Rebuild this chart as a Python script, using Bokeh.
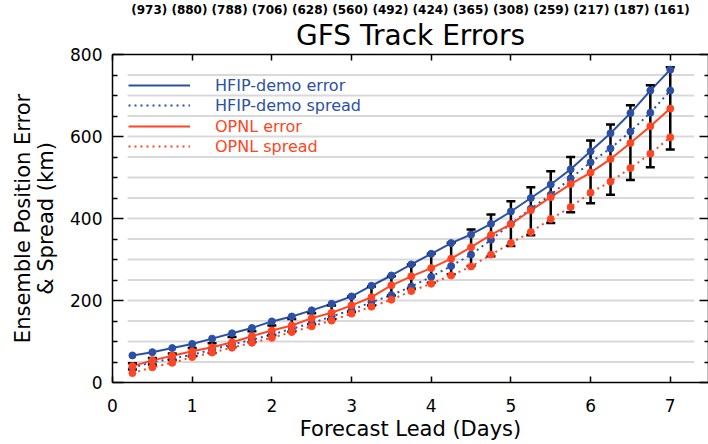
import numpy as np
from bokeh.plotting import figure
from bokeh.models import (Range1d, LinearAxis, FixedTicker, ColumnDataSource, Legend,
                          LegendItem, CustomJSTickFormatter, Title)
from bokeh.embed import file_html
from bokeh.resources import INLINE

# ---------------- data ----------------
days = [0.25, 0.5, 0.75, 1.0, 1.25, 1.5, 1.75, 2.0, 2.25, 2.5, 2.75, 3.0, 3.25, 3.5,
        3.75, 4.0, 4.25, 4.5, 4.75, 5.0, 5.25, 5.5, 5.75, 6.0, 6.25, 6.5, 6.75, 7.0]
hfip_error = [66, 74, 84, 94, 107, 120, 133, 149, 161, 176, 192, 210, 236, 261,
              288, 314, 340, 361, 387, 417, 450, 483, 520, 564, 608, 657, 712, 763]
hfip_spread = [36, 50, 58, 68, 80, 93, 104, 117, 131, 145, 161, 177, 196, 213,
               234, 258, 284, 312, 348, 387, 424, 458, 498, 537, 571, 612, 658, 712]
opnl_error = [40, 54, 65, 76, 86, 98, 113, 127, 139, 157, 170, 188, 208, 237,
              259, 279, 302, 330, 360, 386, 420, 452, 484, 512, 545, 584, 625, 668]
opnl_spread = [23, 37, 48, 62, 73, 85, 97, 109, 123, 137, 151, 168, 185, 202,
               223, 241, 261, 283, 312, 340, 367, 399, 428, 463, 490, 523, 558, 598]
bar_high = [47, 60, 71, 84, 96, 111, 125, 139, 155, 169, 188, 210, 234, 259,
            288, 314, 341, 373, 410, 442, 476, 515, 550, 590, 629, 676, 725, 769]
bar_low = [32, 44, 55, 64, 72, 86, 98, 115, 124, 142, 154, 172, 188, 212,
           229, 243, 264, 284, 308, 333, 359, 389, 415, 437, 458, 494, 525, 568]

counts = [973, 880, 788, 706, 628, 560, 492, 424, 365, 308, 259, 217, 187, 161]

x_ticks = [0, 1, 2, 3, 4, 5, 6, 7]
y_ticks = [0, 200, 400, 600, 800]
y_minor = [50, 100, 150, 250, 300, 350, 450, 500, 550, 650, 700, 750]

BLUE = "#2b50a6"
RED = "#ff4522"
FONT = "DejaVu Sans"

src = ColumnDataSource(dict(x=days, be=hfip_error, bs=hfip_spread, re=opnl_error,
                            rs=opnl_spread, hi=bar_high, lo=bar_low))

p = figure(width=708, height=444, x_range=Range1d(0, 7.48), y_range=Range1d(0, 800),
           output_backend="svg", toolbar_location=None,
           x_axis_location=None, y_axis_location=None,
           min_border_left=112, min_border_right=0, min_border_top=54, min_border_bottom=62)
p.outline_line_color = None
p.grid.visible = False
p.background_fill_color = "white"
p.border_fill_color = "white"

blank = CustomJSTickFormatter(code="return ''")

def style_axis(ax, tick_in, minor_in=0):
    ax.major_tick_in = tick_in
    ax.major_tick_out = 0
    ax.minor_tick_in = minor_in
    ax.minor_tick_out = 0
    ax.axis_line_color = "black"
    ax.axis_line_width = 1.5
    ax.major_tick_line_width = 1.5
    ax.minor_tick_line_width = 1.5
    ax.major_label_text_font = FONT
    ax.major_label_text_font_size = "17px"
    ax.major_label_text_color = "black"
    ax.axis_label_text_font = FONT
    ax.axis_label_text_font_size = "21px"
    ax.axis_label_text_font_style = "normal"
    ax.axis_label_text_color = "black"

left = LinearAxis(ticker=FixedTicker(ticks=y_ticks, minor_ticks=y_minor),
                  axis_label="Ensemble Position Error\n& Spread (km)")
style_axis(left, 11, 5)
left.major_label_standoff = 10
left.axis_label_standoff = 9
left.axis_label_text_line_height = 0.94
p.add_layout(left, "left")

right = LinearAxis(ticker=FixedTicker(ticks=y_ticks, minor_ticks=y_minor), formatter=blank)
style_axis(right, 9, 4)
right.major_label_standoff = 0
p.add_layout(right, "right")

bottom = LinearAxis(ticker=FixedTicker(ticks=x_ticks), axis_label="Forecast Lead (Days)")
style_axis(bottom, 6)
bottom.major_label_standoff = 16
bottom.axis_label_standoff = 2
p.add_layout(bottom, "below")

top = LinearAxis(ticker=FixedTicker(ticks=x_ticks), formatter=blank)
style_axis(top, 6)
top.major_label_standoff = 0
p.add_layout(top, "above")

# titles (added after the top axis -> stacked outward)
p.add_layout(Title(text="GFS Track Errors", align="center", text_font=FONT,
                   text_font_size="28px", text_font_style="normal", text_color="black",
                   standoff=5, offset=7), "above")
p.add_layout(Title(text=" ".join("(%d)" % c for c in counts), align="center",
                   text_font=FONT, text_font_size="12px", text_font_style="bold",
                   text_color="black", standoff=-5), "above")

# horizontal guide lines (at tick positions, inset from the frame)
grid_y = [v for v in sorted(y_ticks + y_minor) if 0 < v < 800]
p.segment(x0=0.19, x1=7.3, y0=grid_y, y1=grid_y, line_color="#d9d9d9", line_width=2)

# lines
r_be = p.line("x", "be", source=src, line_color=BLUE, line_width=2)
r_bs = p.line("x", "bs", source=src, line_color=BLUE, line_width=2, line_dash="2 4")
r_re = p.line("x", "re", source=src, line_color=RED, line_width=2)
r_rs = p.line("x", "rs", source=src, line_color=RED, line_width=2, line_dash="2 4")

# error bars
p.segment(x0="x", x1="x", y0="lo", y1="hi", source=src, line_color="black", line_width=2.5)
p.scatter("x", "hi", source=src, marker="dash", size=9, line_color="black", line_width=2.5)
p.scatter("x", "lo", source=src, marker="dash", size=9, line_color="black", line_width=2.5)

# markers
for col, c in (("be", BLUE), ("bs", BLUE), ("re", RED), ("rs", RED)):
    p.scatter("x", col, source=src, size=7, fill_color=c, line_color=c)

# legends
def mk_legend(items, loc, color):
    lg = Legend(items=items, location=loc, glyph_width=62, glyph_height=20,
                label_height=20, label_standoff=25, spacing=0, padding=0, margin=0,
                border_line_color=None, background_fill_alpha=0,
                label_text_color=color, label_text_font=FONT, label_text_font_size="16px")
    p.add_layout(lg, "center")

mk_legend([LegendItem(label="HFIP-demo error", renderers=[r_be]),
           LegendItem(label="HFIP-demo spread", renderers=[r_bs])], (16, 267), BLUE)
mk_legend([LegendItem(label="OPNL error", renderers=[r_re]),
           LegendItem(label="OPNL spread", renderers=[r_rs])], (16, 226), RED)

open("out.html", "w").write(file_html(p, INLINE))
